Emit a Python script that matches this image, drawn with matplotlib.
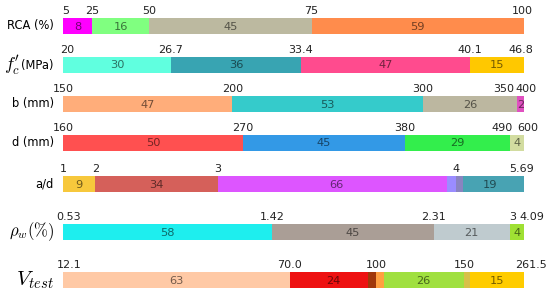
import numpy as np
import matplotlib.pyplot as plt

# Row names (mathtext for the symbols)
rows = ['RCA (%)', r"$f_c'$", 'b (mm)', 'd (mm)', 'a/d', r'$\rho_w(\%)$', r'$V_{test}$']

# Number of specimens in each range
rca_counts = [8, 16, 45, 59]
fc_counts = [30, 36, 47, 15]
b_counts = [47, 53, 26, 2]
d_counts = [50, 45, 29, 4]
ad_counts = [9, 34, 66, 19]
rho_counts = [58, 45, 21, 4]
v_counts = [63, 24, 26, 15]

# Range boundaries written above each bar
rca_ticks = ['5', '25', '50', '75', '100']
fc_ticks = ['20', '26.7', '33.4', '40.1', '46.8']
b_ticks = ['150', '200', '300', '350', '400']
d_ticks = ['160', '270', '380', '490', '600']
ad_ticks = ['1', '2', '3', '4', '5.69']
rho_ticks = ['0.53', '1.42', '2.31', '3', '4.09']
v_ticks = ['12.1', '70.0', '100', '150', '261.5']

counts = [rca_counts, fc_counts, b_counts, d_counts, ad_counts, rho_counts, v_counts]
ticks = [rca_ticks, fc_ticks, b_ticks, d_ticks, ad_ticks, rho_ticks, v_ticks]

colors = [
    ['#ff00ff', '#80ff80', '#bcb9a0', '#ff8c4c'],
    ['#60ffdf', '#38a4b2', '#ff4b8e', '#ffc800'],
    ['#ffad7a', '#35cbcb', '#bcb7a0', '#e050c0'],
    ['#ff5050', '#3399e6', '#33ee4c', '#d2dca0'],
    ['#f7c83c', '#d5605a', '#dd55ff', '#48a3b3'],
    ['#1eeeee', '#aa9e96', '#bfcbcf', '#9fe033'],
    ['#ffc9a5', '#ee1111', '#a0e040', '#ffcc00'],
]

# small extra slivers seen inside some bars: (row, start, width, color)
slivers = [
    (4, 106.7, 2.5, '#9a8cff'),
    (4, 109.2, 1.9, '#8a84c0'),
    (6, 84.7, 2.2, '#a0380a'),
    (6, 86.9, 2.3, '#ffa040'),
    (6, 111.4, 1.7, '#d8c048'),
]

# layout (pixels)
row_y = [26, 65, 104, 143, 184, 232, 280]
bar_h = 16
# horizontal nudges (px) for crowded boundary labels
nudge = {(0, 0): 3, (0, 4): -2,
         (1, 0): 4, (1, 4): -3,
         (2, 3): -13, (2, 4): 2,
         (3, 3): -8, (3, 4): 4,
         (4, 4): -2,
         (5, 0): 6, (5, 3): 3, (5, 4): 8,
         (6, 0): 6, (6, 3): -6, (6, 4): 7}

plt.rcParams['font.family'] = 'DejaVu Sans'
fig = plt.figure(figsize=(5.5, 2.93), dpi=100)
ax = fig.add_axes([63 / 550, 0, 461 / 550, 1])
ax.set_xlim(0, 128)
ax.set_ylim(293, 0)
ax.axis('off')

px = 0.72  # points per pixel
for i in range(len(rows)):
    c = np.array(counts[i])
    left = np.concatenate([[0], np.cumsum(c)[:-1]])
    ax.barh(row_y[i], c, left=left, height=bar_h, color=colors[i], edgecolor='none')
    for j in range(len(c)):
        ax.text(left[j] + c[j] / 2, row_y[i] + 0.5, str(c[j]), ha='center', va='center',
                fontsize=8.2, color='black', alpha=0.55)
    bounds = np.concatenate([[0], np.cumsum(c)])
    for j, t in enumerate(ticks[i]):
        ax.annotate(t, (bounds[j], row_y[i] - bar_h / 2),
                    xytext=(nudge.get((i, j), 0) * px, 2 * px), textcoords='offset points',
                    ha='center', va='bottom', fontsize=8, color='#222222')

for r, s, w, col in slivers:
    ax.barh(row_y[r], w, left=s, height=bar_h, color=col, edgecolor='none')

# row labels on the left
lx = 54 / 550
for i, name in enumerate(rows):
    y = 1 - row_y[i] / 293
    if i == 1:
        fig.text(20 / 550, y, r"$f_c'$", ha='right', va='center', fontsize=13,
                 math_fontfamily='cm')
        fig.text(lx, y, '(MPa)', ha='right', va='center', fontsize=8.3)
    elif i == 5:
        fig.text(lx, y, name, ha='right', va='center', fontsize=12, math_fontfamily='cm')
    elif i == 6:
        fig.text(lx, y, name, ha='right', va='center', fontsize=15, math_fontfamily='cm')
    else:
        fig.text(lx, y, name, ha='right', va='center', fontsize=8.3)

fig.savefig('out.png', dpi=100)
